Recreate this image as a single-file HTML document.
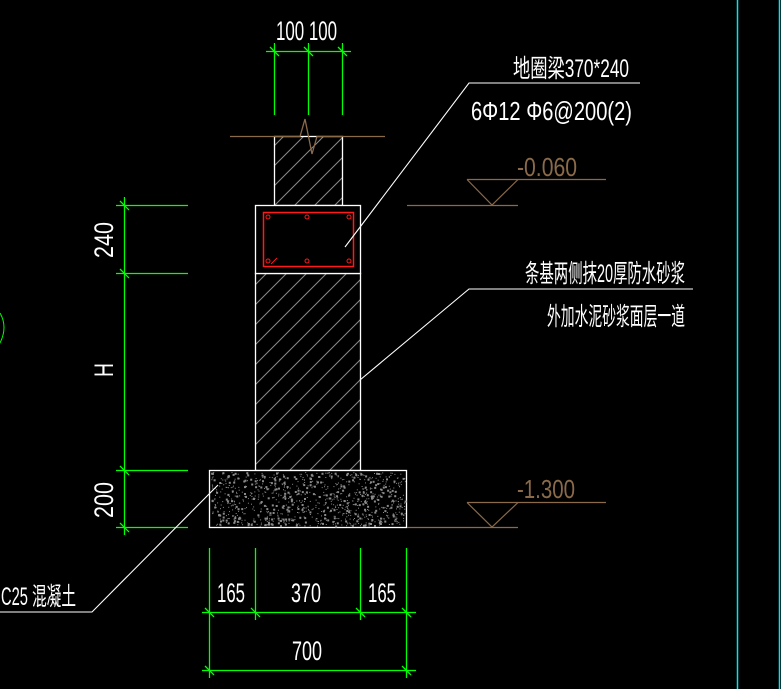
<!DOCTYPE html>
<html><head><meta charset="utf-8"><style>
html,body{margin:0;padding:0;background:#000;width:781px;height:689px;overflow:hidden}
svg{display:block}
text{font-family:"Liberation Sans","Noto Sans CJK SC",sans-serif;}
</style></head><body>
<svg id="s" width="781" height="689" viewBox="0 0 781 689" xmlns="http://www.w3.org/2000/svg">
<defs>
<pattern id="h" patternUnits="userSpaceOnUse" width="20" height="20">
<line x1="0" y1="20" x2="20" y2="0" stroke="#8a8a8a" stroke-width="1"/>
<line x1="-5" y1="5" x2="5" y2="-5" stroke="#8a8a8a" stroke-width="1"/>
<line x1="15" y1="25" x2="25" y2="15" stroke="#8a8a8a" stroke-width="1"/>
</pattern>
</defs>
<rect width="781" height="689" fill="#000"/>
<line x1="737.5" y1="0" x2="737.5" y2="689" stroke="#00e5ee" stroke-width="1.5"/>
<line x1="779.5" y1="0" x2="779.5" y2="689" stroke="#00e5ee" stroke-width="1.5"/>
<path d="M0,313 Q8,327 0,343" fill="none" stroke="#00ff00" stroke-width="1"/>

<g stroke="#00ff00" stroke-width="1.3">
<line x1="266" y1="51.5" x2="351" y2="51.5"/>
<line x1="274.5" y1="43" x2="274.5" y2="115"/>
<line x1="308.5" y1="43" x2="308.5" y2="115"/>
<line x1="342.5" y1="43" x2="342.5" y2="115"/>
<line x1="270" y1="47" x2="279" y2="56"/><line x1="304" y1="47" x2="313" y2="56"/><line x1="338" y1="47" x2="347" y2="56"/>
</g>
<text x="276" y="40" fill="#fff" font-size="27" textLength="61" lengthAdjust="spacingAndGlyphs">100 100</text>

<rect x="274.5" y="136.5" width="68" height="69" fill="url(#h)" stroke="#fff" stroke-width="1.3"/>
<rect x="255.5" y="273.5" width="105" height="197" fill="url(#h)" stroke="#fff" stroke-width="1.3"/>
<rect x="255.5" y="205.5" width="105" height="68" fill="#000" stroke="#fff" stroke-width="1.3"/>
<rect x="263.5" y="212.5" width="90" height="54" fill="none" stroke="#ff1a1a" stroke-width="1.5"/>
<g fill="none" stroke="#ff1a1a" stroke-width="1">
<circle cx="268" cy="217" r="2"/><circle cx="307" cy="217" r="2"/><circle cx="349" cy="217" r="2"/>
<circle cx="268" cy="261" r="2"/><circle cx="307" cy="261" r="2"/><circle cx="349" cy="261" r="2"/>
<line x1="271" y1="264" x2="277" y2="258"/>
</g>
<polyline points="230,136.5 300,136.5 305,119 312,154 317,136.5 385,136.5" fill="none" stroke="#8b6a4a" stroke-width="1.3"/>

<rect x="209.5" y="470.5" width="197" height="57" fill="#000" stroke="#fff" stroke-width="1.3"/>
<g id="sp" fill="#8a8a8a"></g>

<g stroke="#00ff00" stroke-width="1.3">
<line x1="124.5" y1="197" x2="124.5" y2="535"/>
<line x1="116" y1="205.5" x2="188" y2="205.5"/>
<line x1="116" y1="273.5" x2="188" y2="273.5"/>
<line x1="116" y1="470.5" x2="188" y2="470.5"/>
<line x1="116" y1="527.5" x2="188" y2="527.5"/>
<line x1="120" y1="201" x2="129" y2="210"/><line x1="120" y1="269" x2="129" y2="278"/>
<line x1="120" y1="466" x2="129" y2="475"/><line x1="120" y1="523" x2="129" y2="532"/>
</g>
<g fill="#fff" font-size="27">
<text transform="translate(113 240) rotate(-90)" text-anchor="middle" textLength="36" lengthAdjust="spacingAndGlyphs">240</text>
<text transform="translate(113 370) rotate(-90)" text-anchor="middle" textLength="14" lengthAdjust="spacingAndGlyphs">H</text>
<text transform="translate(113 500) rotate(-90)" text-anchor="middle" textLength="36" lengthAdjust="spacingAndGlyphs">200</text>
</g>

<g stroke="#00ff00" stroke-width="1.3">
<line x1="209.5" y1="548" x2="209.5" y2="678"/>
<line x1="255.5" y1="548" x2="255.5" y2="620"/>
<line x1="360.5" y1="548" x2="360.5" y2="620"/>
<line x1="406.5" y1="548" x2="406.5" y2="678"/>
<line x1="202" y1="612.5" x2="416" y2="612.5"/>
<line x1="202" y1="670.5" x2="416" y2="670.5"/>
<line x1="205" y1="608" x2="214" y2="617"/><line x1="251" y1="608" x2="260" y2="617"/>
<line x1="356" y1="608" x2="365" y2="617"/><line x1="402" y1="608" x2="411" y2="617"/>
<line x1="205" y1="666" x2="214" y2="675"/><line x1="402" y1="666" x2="411" y2="675"/>
</g>
<g fill="#fff" font-size="27">
<text x="217" y="602" textLength="28" lengthAdjust="spacingAndGlyphs">165</text>
<text x="291" y="602" textLength="30" lengthAdjust="spacingAndGlyphs">370</text>
<text x="368" y="602" textLength="28" lengthAdjust="spacingAndGlyphs">165</text>
<text x="292" y="660" textLength="30" lengthAdjust="spacingAndGlyphs">700</text>
</g>

<g stroke="#8b6a4a" stroke-width="1.2" fill="none">
<line x1="467" y1="179.5" x2="606" y2="179.5"/>
<polyline points="467,179.5 492,205 518,179.5"/>
<line x1="407" y1="205.5" x2="518" y2="205.5"/>
<line x1="467" y1="502.5" x2="606" y2="502.5"/>
<polyline points="467,502.5 492,527 518,502.5"/>
<line x1="407" y1="527.5" x2="518" y2="527.5"/>
</g>
<g fill="#8b6a4a" font-size="26">
<text x="517" y="176" textLength="60" lengthAdjust="spacingAndGlyphs">-0.060</text>
<text x="517" y="498" textLength="58" lengthAdjust="spacingAndGlyphs">-1.300</text>
</g>

<g stroke="#fff" stroke-width="1.1" fill="none">
<polyline points="345,247 469,83 640,83"/>
<polyline points="360,380 469,289 693,289"/>
<polyline points="218,485 92,612 0,612"/>
</g>
<g fill="#fff" font-size="25">
<text x="513" y="77" textLength="116" lengthAdjust="spacingAndGlyphs">地圈梁370*240</text>
<text x="471" y="120" font-size="26" textLength="161" lengthAdjust="spacingAndGlyphs">6Φ12  Φ6@200(2)</text>
<text x="525" y="282" textLength="160" lengthAdjust="spacingAndGlyphs">条基两侧抹20厚防水砂浆</text>
<text x="547" y="325" textLength="138" lengthAdjust="spacingAndGlyphs">外加水泥砂浆面层一道</text>
<text x="1" y="605" textLength="75" lengthAdjust="spacingAndGlyphs">C25 混凝土</text>
</g>
</svg>
<script>
(function(){var g=document.getElementById('sp');var s=12345;function r(){s=(s*1103515245+12345)&0x7fffffff;return s/0x7fffffff;}
var h='';for(var i=0;i<1000;i++){var x=211+r()*194,y=472+r()*54,w=r()<0.25?2:1;h+='<rect x="'+x.toFixed(1)+'" y="'+y.toFixed(1)+'" width="'+w+'" height="'+w+'"/>';}
g.innerHTML=h;})();
</script>
</body></html>
